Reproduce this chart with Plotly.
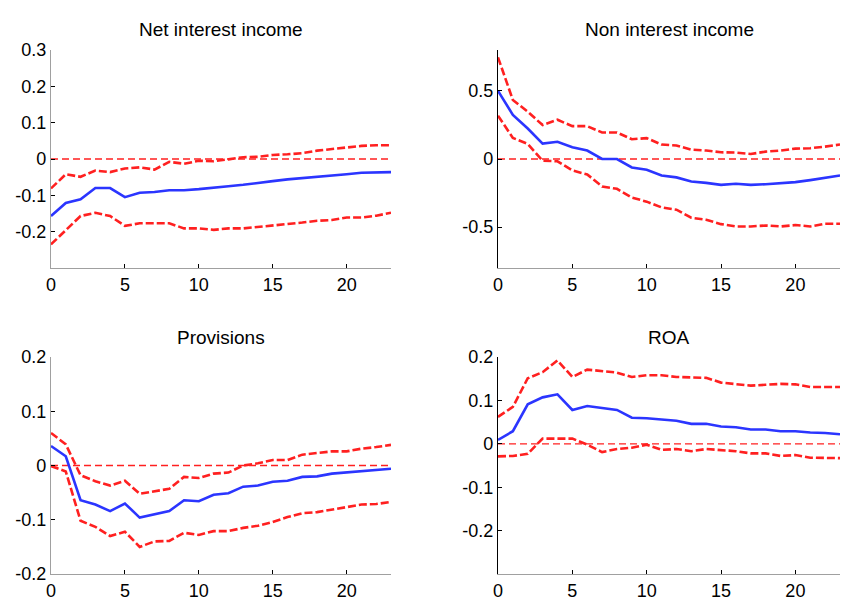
import plotly.graph_objects as go

periods = list(range(24))

nii_mid = [-0.157, -0.121, -0.111, -0.080, -0.080, -0.105, -0.093, -0.091, -0.086, -0.086, -0.083, -0.080,
           -0.075, -0.071, -0.067, -0.061, -0.056, -0.053, -0.050, -0.046, -0.042, -0.038, -0.036, -0.036]
nii_up = [-0.081, -0.042, -0.049, -0.032, -0.036, -0.026, -0.023, -0.029, -0.008, -0.013, -0.005, -0.006,
          -0.001, 0.005, 0.006, 0.011, 0.013, 0.016, 0.023, 0.027, 0.033, 0.036, 0.038, 0.038]
nii_lo = [-0.235, -0.196, -0.157, -0.148, -0.157, -0.184, -0.177, -0.177, -0.177, -0.191, -0.191, -0.195,
          -0.191, -0.191, -0.187, -0.185, -0.180, -0.175, -0.170, -0.168, -0.161, -0.161, -0.156, -0.148]

noni_mid = [0.50, 0.323, 0.224, 0.113, 0.126, 0.086, 0.062, 0.0, 0.0, -0.062, -0.079, -0.121,
            -0.135, -0.165, -0.175, -0.190, -0.182, -0.190, -0.185, -0.177, -0.170, -0.155, -0.138, -0.121]
noni_up = [0.746, 0.433, 0.347, 0.249, 0.288, 0.241, 0.241, 0.195, 0.195, 0.145, 0.153, 0.106,
           0.099, 0.069, 0.062, 0.049, 0.047, 0.037, 0.054, 0.062, 0.076, 0.079, 0.091, 0.106]
noni_lo = [0.318, 0.155, 0.111, -0.012, -0.017, -0.084, -0.113, -0.202, -0.219, -0.283, -0.313, -0.355,
           -0.372, -0.431, -0.446, -0.478, -0.495, -0.495, -0.488, -0.495, -0.485, -0.495, -0.475, -0.475]

prov_mid = [0.036, 0.017, -0.064, -0.072, -0.084, -0.070, -0.096, -0.090, -0.084, -0.064, -0.066, -0.054,
            -0.051, -0.039, -0.037, -0.030, -0.028, -0.021, -0.020, -0.015, -0.013, -0.010, -0.008, -0.006]
prov_up = [0.060, 0.039, -0.018, -0.029, -0.037, -0.028, -0.052, -0.047, -0.043, -0.021, -0.023, -0.015,
           -0.013, 0.0, 0.004, 0.010, 0.010, 0.020, 0.023, 0.026, 0.026, 0.031, 0.034, 0.038]
prov_lo = [-0.001, -0.011, -0.102, -0.113, -0.130, -0.122, -0.150, -0.140, -0.139, -0.124, -0.128, -0.121,
           -0.121, -0.115, -0.111, -0.104, -0.095, -0.088, -0.086, -0.081, -0.077, -0.072, -0.071, -0.067]

roa_mid = [0.009, 0.029, 0.091, 0.107, 0.114, 0.078, 0.087, 0.083, 0.078, 0.060, 0.059, 0.056,
           0.053, 0.046, 0.046, 0.040, 0.038, 0.033, 0.033, 0.029, 0.029, 0.026, 0.025, 0.022]
roa_up = [0.062, 0.085, 0.151, 0.165, 0.192, 0.154, 0.171, 0.167, 0.164, 0.154, 0.158, 0.158,
          0.154, 0.153, 0.152, 0.141, 0.137, 0.134, 0.136, 0.138, 0.137, 0.131, 0.131, 0.131]
roa_lo = [-0.029, -0.028, -0.023, 0.012, 0.012, 0.012, -0.002, -0.019, -0.012, -0.009, -0.002, -0.014,
          -0.012, -0.017, -0.012, -0.014, -0.017, -0.022, -0.022, -0.028, -0.026, -0.032, -0.033, -0.033]

titles = ["Net interest income", "Non interest income", "Provisions", "ROA"]
y_ranges = [[-0.3, 0.3], [-0.8, 0.8], [-0.2, 0.2], [-0.3, 0.2]]
y_ticks = [[-0.2, -0.1, 0, 0.1, 0.2, 0.3], [-0.5, 0, 0.5], [-0.2, -0.1, 0, 0.1, 0.2], [-0.2, -0.1, 0, 0.1, 0.2]]
x_ticks = [0, 5, 10, 15, 20]

series = [(nii_mid, nii_up, nii_lo), (noni_mid, noni_up, noni_lo),
          (prov_mid, prov_up, prov_lo), (roa_mid, roa_up, roa_lo)]

W, H = 858, 616
OFF = 8  # page body margin
# pixel boxes (left, right, top, bottom) in the target screenshot
boxes = [(51, 391, 50, 268), (498, 840, 50, 268), (51, 391, 357, 574), (498, 840, 357, 574)]
left_line_colors = ["#a0a0a0", "#000000", "#a0a0a0", "#000000"]

RED = "#ff2020"
BLUE = "#2b35ff"
FONT = "Liberation Sans, Arial, sans-serif"

def fmt(v):
    if v == 0:
        return "0"
    return "%g" % v

fig = go.Figure()
annotations = []
shapes = []
for i, (mid, up, lo) in enumerate(series):
    xa = "x" if i == 0 else "x%d" % (i + 1)
    ya = "y" if i == 0 else "y%d" % (i + 1)
    shapes.append(dict(type="line", xref=xa, yref=ya, x0=0, x1=23, y0=0, y1=0,
                       line=dict(color=RED, width=1.3, dash="7px,4px"), layer="below"))
    for band in (up, lo):
        fig.add_trace(go.Scatter(x=periods, y=band, mode="lines", xaxis=xa, yaxis=ya,
                                 line=dict(color=RED, width=2.6, dash="8px,3px"), showlegend=False))
    fig.add_trace(go.Scatter(x=periods, y=mid, mode="lines", xaxis=xa, yaxis=ya,
                             line=dict(color=BLUE, width=2.6), showlegend=False))
    l, r, t, b = boxes[i]
    l, r, t, b = l - OFF, r - OFF, t - OFF, b - OFF
    xdom = [l / W, r / W]
    ydom = [1 - b / H, 1 - t / H]
    xkey = "xaxis" if i == 0 else "xaxis%d" % (i + 1)
    ykey = "yaxis" if i == 0 else "yaxis%d" % (i + 1)
    fig.layout[xkey] = dict(domain=xdom, anchor=ya, range=[0, 23], tickvals=x_ticks,
                            ticktext=[str(v) for v in x_ticks],
                            showline=True, linecolor="#a0a0a0", linewidth=1.3, mirror=False,
                            ticks="inside", ticklen=4, tickcolor="#000000", tickwidth=1,
                            showgrid=False, zeroline=False,
                            tickfont=dict(family=FONT, size=18, color="#000000"), automargin=False)
    fig.layout[ykey] = dict(domain=ydom, anchor=xa, range=y_ranges[i], tickvals=y_ticks[i],
                            ticktext=[fmt(v) for v in y_ticks[i]],
                            showline=True, linecolor=left_line_colors[i], linewidth=1.3,
                            ticks="inside", ticklen=4, tickcolor="#000000", tickwidth=1,
                            showgrid=False, zeroline=False,
                            tickfont=dict(family=FONT, size=18, color="#000000"), automargin=False)
    annotations.append(dict(text=titles[i], x=(l + r) / 2 / W, y=1 - (t - 20) / H,
                            xref="paper", yref="paper", showarrow=False,
                            xanchor="center", yanchor="middle",
                            font=dict(family=FONT, size=19, color="#000000")))

fig.update_layout(width=W, height=H, margin=dict(l=0, r=0, t=0, b=0),
                  paper_bgcolor="white", plot_bgcolor="white",
                  annotations=annotations, shapes=shapes)

fig.write_html("out.html")
